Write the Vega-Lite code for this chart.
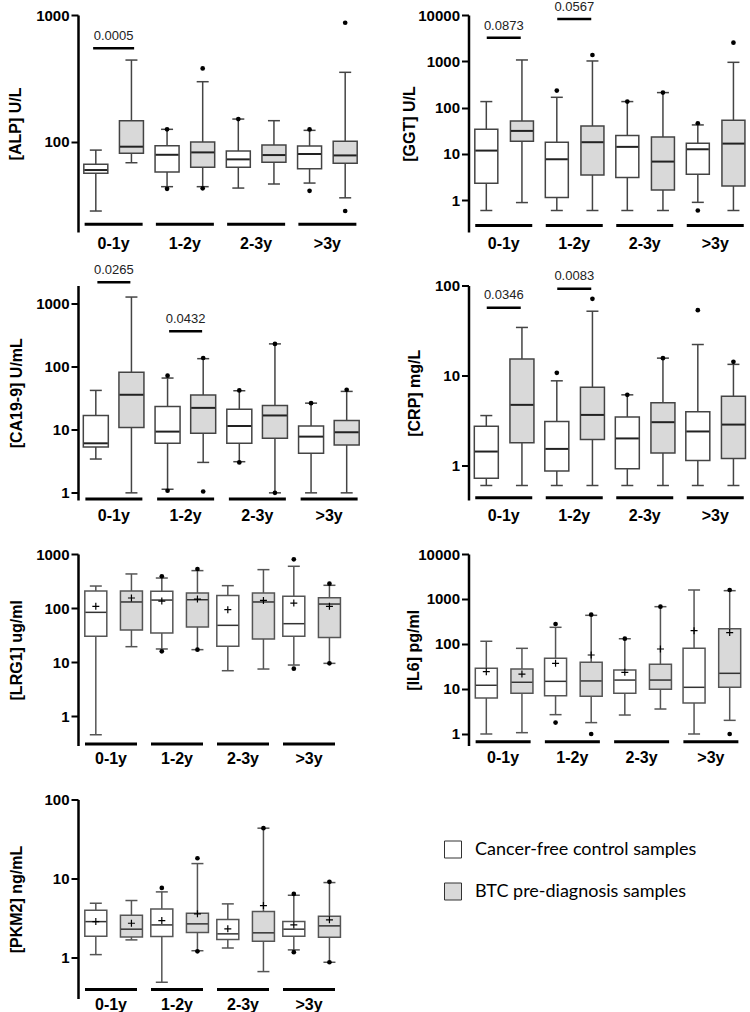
{
  "$schema": "https://vega.github.io/schema/vega-lite/v6.json",
  "padding": {"left": 7, "top": 1, "right": 0, "bottom": 4},
  "background": "white",
  "columns": 2,
  "bounds": "flush",
  "align": "each",
  "spacing": {"row": 53.5, "column": 103.5},
  "resolve": {"scale": {"fill": "independent"}, "legend": {"fill": "independent"}},
  "config": {
    "font": "Liberation Sans",
    "view": {"stroke": null},
    "text": {"font": "Liberation Sans"},
    "axisY": {"labelFont": "Liberation Sans", "titleFont": "Liberation Sans", "domainColor": "black", "domainWidth": 2.5, "tickColor": "black", "tickWidth": 2, "tickSize": 7, "labelFontSize": 15, "labelFontWeight": "bold", "labelColor": "black", "labelPadding": 2, "titleFontSize": 16, "titleFontWeight": "bold", "titleColor": "black", "titleAngle": 270, "titleBaseline": "middle", "titleAlign": "center", "grid": false},
    "axisX": {"labelFont": "Liberation Sans", "domain": false, "ticks": false, "tickSize": 0, "labelFontSize": 16, "labelFontWeight": "bold", "labelColor": "black", "labelAngle": 0, "grid": false}
  },
  "datasets": {
    "groups": [{"group": "0-1y"}, {"group": "1-2y"}, {"group": "2-3y"}, {"group": ">3y"}],
    "alp_box": [
      {"group": "0-1y", "series": "Control", "lo": 28.4, "q1": 56.3, "med": 59.8, "q3": 66.3, "hi": 85.9},
      {"group": "0-1y", "series": "BTC", "lo": 68.3, "q1": 81, "med": 91.4, "q3": 146.6, "hi": 441},
      {"group": "1-2y", "series": "Control", "lo": 44.2, "q1": 57.7, "med": 78.9, "q3": 93, "hi": 125.3},
      {"group": "1-2y", "series": "BTC", "lo": 44.2, "q1": 62.8, "med": 82.4, "q3": 99.5, "hi": 297.6},
      {"group": "2-3y", "series": "Control", "lo": 43.1, "q1": 62.8, "med": 72.6, "q3": 84.5, "hi": 151},
      {"group": "2-3y", "series": "BTC", "lo": 46.4, "q1": 68.8, "med": 78.5, "q3": 94.2, "hi": 146.6},
      {"group": ">3y", "series": "Control", "lo": 47.2, "q1": 61.2, "med": 80, "q3": 92.5, "hi": 123},
      {"group": ">3y", "series": "BTC", "lo": 36.1, "q1": 67.5, "med": 78, "q3": 100.7, "hi": 353}
    ],
    "alp_out": [
      {"group": "1-2y", "series": "Control", "value": 125.3}, {"group": "1-2y", "series": "Control", "value": 42.5},
      {"group": "1-2y", "series": "BTC", "value": 379}, {"group": "1-2y", "series": "BTC", "value": 42.9},
      {"group": "2-3y", "series": "Control", "value": 151},
      {"group": ">3y", "series": "Control", "value": 125}, {"group": ">3y", "series": "Control", "value": 41},
      {"group": ">3y", "series": "BTC", "value": 869}, {"group": ">3y", "series": "BTC", "value": 28.4}
    ],
    "alp_sig": [{"group": "0-1y", "label": "0.0005", "at": 546}],
    "ggt_box": [
      {"group": "0-1y", "series": "Control", "lo": 0.6, "q1": 2.33, "med": 11.8, "q3": 34, "hi": 135},
      {"group": "0-1y", "series": "BTC", "lo": 0.89, "q1": 18.8, "med": 31.4, "q3": 51.5, "hi": 1069},
      {"group": "1-2y", "series": "Control", "lo": 0.6, "q1": 1.14, "med": 7.67, "q3": 17.9, "hi": 167},
      {"group": "1-2y", "series": "BTC", "lo": 0.6, "q1": 3.52, "med": 17.9, "q3": 40.2, "hi": 1017},
      {"group": "2-3y", "series": "Control", "lo": 0.6, "q1": 3.08, "med": 14.2, "q3": 24.9, "hi": 135},
      {"group": "2-3y", "series": "BTC", "lo": 0.6, "q1": 1.67, "med": 6.83, "q3": 23.3, "hi": 211},
      {"group": ">3y", "series": "Control", "lo": 0.9, "q1": 3.64, "med": 12.6, "q3": 17, "hi": 42.3},
      {"group": ">3y", "series": "BTC", "lo": 0.6, "q1": 2.04, "med": 16.7, "q3": 53.3, "hi": 951}
    ],
    "ggt_out": [
      {"group": "1-2y", "series": "Control", "value": 233},
      {"group": "1-2y", "series": "BTC", "value": 1370},
      {"group": "2-3y", "series": "Control", "value": 135},
      {"group": "2-3y", "series": "BTC", "value": 211},
      {"group": ">3y", "series": "Control", "value": 45.9}, {"group": ">3y", "series": "Control", "value": 0.6},
      {"group": ">3y", "series": "BTC", "value": 2530}
    ],
    "ggt_sig": [{"group": "0-1y", "label": "0.0873", "at": 3236}, {"group": "1-2y", "label": "0.0567", "at": 8200}],
    "ca_box": [
      {"group": "0-1y", "series": "Control", "lo": 3.44, "q1": 5.34, "med": 6.11, "q3": 16.9, "hi": 42.2},
      {"group": "0-1y", "series": "BTC", "lo": 1.0, "q1": 10.9, "med": 36, "q3": 81.6, "hi": 1279},
      {"group": "1-2y", "series": "Control", "lo": 1.14, "q1": 6.11, "med": 9.37, "q3": 23.5, "hi": 66.3},
      {"group": "1-2y", "series": "BTC", "lo": 3.04, "q1": 8.82, "med": 22.3, "q3": 35.6, "hi": 134.6},
      {"group": "2-3y", "series": "Control", "lo": 3.12, "q1": 6.11, "med": 11.5, "q3": 21.3, "hi": 41.7},
      {"group": "2-3y", "series": "BTC", "lo": 1.0, "q1": 7.34, "med": 16.9, "q3": 24.3, "hi": 231},
      {"group": ">3y", "series": "Control", "lo": 1.0, "q1": 4.24, "med": 7.8, "q3": 11.5, "hi": 26.5},
      {"group": ">3y", "series": "BTC", "lo": 1.0, "q1": 5.75, "med": 9.15, "q3": 14, "hi": 40.7}
    ],
    "ca_out": [
      {"group": "1-2y", "series": "Control", "value": 72.2}, {"group": "1-2y", "series": "Control", "value": 1.08},
      {"group": "1-2y", "series": "BTC", "value": 138}, {"group": "1-2y", "series": "BTC", "value": 1.05},
      {"group": "2-3y", "series": "Control", "value": 42.2}, {"group": "2-3y", "series": "Control", "value": 3.04},
      {"group": "2-3y", "series": "BTC", "value": 231}, {"group": "2-3y", "series": "BTC", "value": 1.0},
      {"group": ">3y", "series": "Control", "value": 26.5},
      {"group": ">3y", "series": "BTC", "value": 43.2}
    ],
    "ca_sig": [{"group": "0-1y", "label": "0.0265", "at": 2203}, {"group": "1-2y", "label": "0.0432", "at": 367}],
    "crp_box": [
      {"group": "0-1y", "series": "Control", "lo": 0.6, "q1": 0.72, "med": 1.43, "q3": 2.73, "hi": 3.59},
      {"group": "0-1y", "series": "BTC", "lo": 0.6, "q1": 1.79, "med": 4.72, "q3": 15.3, "hi": 34.2},
      {"group": "1-2y", "series": "Control", "lo": 0.6, "q1": 0.87, "med": 1.53, "q3": 3.08, "hi": 8.73},
      {"group": "1-2y", "series": "BTC", "lo": 0.6, "q1": 1.94, "med": 3.65, "q3": 7.42, "hi": 51.8},
      {"group": "2-3y", "series": "Control", "lo": 0.6, "q1": 0.92, "med": 2.0, "q3": 3.47, "hi": 6.1},
      {"group": "2-3y", "series": "BTC", "lo": 0.6, "q1": 1.38, "med": 3.03, "q3": 4.97, "hi": 15.6},
      {"group": ">3y", "series": "Control", "lo": 0.6, "q1": 1.14, "med": 2.39, "q3": 3.95, "hi": 22.1},
      {"group": ">3y", "series": "BTC", "lo": 0.6, "q1": 1.2, "med": 2.85, "q3": 5.89, "hi": 13.3}
    ],
    "crp_out": [
      {"group": "1-2y", "series": "Control", "value": 10.7},
      {"group": "1-2y", "series": "BTC", "value": 71.1},
      {"group": "2-3y", "series": "Control", "value": 6.1},
      {"group": "2-3y", "series": "BTC", "value": 15.6},
      {"group": ">3y", "series": "Control", "value": 53.2},
      {"group": ">3y", "series": "BTC", "value": 14.2}
    ],
    "crp_sig": [{"group": "0-1y", "label": "0.0346", "at": 56.5}, {"group": "1-2y", "label": "0.0083", "at": 91.9}],
    "lrg_box": [
      {"group": "0-1y", "series": "Control", "lo": 0.458, "q1": 30.1, "med": 83.6, "q3": 207, "hi": 256, "mean": 108},
      {"group": "0-1y", "series": "BTC", "lo": 19.4, "q1": 39.4, "med": 130, "q3": 207, "hi": 428, "mean": 154},
      {"group": "1-2y", "series": "Control", "lo": 17.6, "q1": 34.7, "med": 141, "q3": 204, "hi": 360, "mean": 135},
      {"group": "1-2y", "series": "BTC", "lo": 17.1, "q1": 44.8, "med": 143, "q3": 190, "hi": 493, "mean": 147},
      {"group": "2-3y", "series": "Control", "lo": 6.98, "q1": 19.7, "med": 48.1, "q3": 172, "hi": 260, "mean": 93.7},
      {"group": "2-3y", "series": "BTC", "lo": 7.5, "q1": 26.9, "med": 130, "q3": 190, "hi": 514, "mean": 139},
      {"group": ">3y", "series": "Control", "lo": 8.89, "q1": 30.1, "med": 51.6, "q3": 165, "hi": 593, "mean": 124},
      {"group": ">3y", "series": "BTC", "lo": 9.55, "q1": 28.8, "med": 119, "q3": 156, "hi": 264, "mean": 108}
    ],
    "lrg_out": [
      {"group": "1-2y", "series": "Control", "value": 387}, {"group": "1-2y", "series": "Control", "value": 15.9},
      {"group": "1-2y", "series": "BTC", "value": 529}, {"group": "1-2y", "series": "BTC", "value": 17.1},
      {"group": ">3y", "series": "Control", "value": 798}, {"group": ">3y", "series": "Control", "value": 7.6},
      {"group": ">3y", "series": "BTC", "value": 283}, {"group": ">3y", "series": "BTC", "value": 9.55}
    ],
    "il6_box": [
      {"group": "0-1y", "series": "Control", "lo": 1.0, "q1": 6.31, "med": 12.1, "q3": 28.8, "hi": 115, "mean": 24.3},
      {"group": "0-1y", "series": "BTC", "lo": 1.07, "q1": 8.01, "med": 14.1, "q3": 27.8, "hi": 80.1, "mean": 21.5},
      {"group": "1-2y", "series": "Control", "lo": 2.69, "q1": 7.11, "med": 14.8, "q3": 48, "hi": 235, "mean": 37.2},
      {"group": "1-2y", "series": "BTC", "lo": 1.79, "q1": 6.87, "med": 15.1, "q3": 39.1, "hi": 434, "mean": 57},
      {"group": "2-3y", "series": "Control", "lo": 2.64, "q1": 8.01, "med": 15.8, "q3": 26.5, "hi": 131, "mean": 23.5},
      {"group": "2-3y", "series": "BTC", "lo": 3.59, "q1": 9.84, "med": 15.8, "q3": 35.3, "hi": 675, "mean": 77.4},
      {"group": ">3y", "series": "Control", "lo": 1.0, "q1": 4.88, "med": 10.9, "q3": 80.1, "hi": 1585, "mean": 198},
      {"group": ">3y", "series": "BTC", "lo": 2.01, "q1": 10.9, "med": 22.3, "q3": 219, "hi": 1531, "mean": 179}
    ],
    "il6_out": [
      {"group": "1-2y", "series": "Control", "value": 278}, {"group": "1-2y", "series": "Control", "value": 1.79},
      {"group": "1-2y", "series": "BTC", "value": 449}, {"group": "1-2y", "series": "BTC", "value": 1.0},
      {"group": "2-3y", "series": "Control", "value": 131},
      {"group": "2-3y", "series": "BTC", "value": 675},
      {"group": ">3y", "series": "BTC", "value": 1585}, {"group": ">3y", "series": "BTC", "value": 1.0}
    ],
    "pk_box": [
      {"group": "0-1y", "series": "Control", "lo": 1.08, "q1": 1.85, "med": 2.83, "q3": 3.95, "hi": 4.84, "mean": 2.83},
      {"group": "0-1y", "series": "BTC", "lo": 1.66, "q1": 1.81, "med": 2.27, "q3": 3.41, "hi": 5.24, "mean": 2.7},
      {"group": "1-2y", "series": "Control", "lo": 0.482, "q1": 1.83, "med": 2.57, "q3": 4.1, "hi": 6.74, "mean": 2.92},
      {"group": "1-2y", "series": "BTC", "lo": 1.21, "q1": 2.06, "med": 2.65, "q3": 3.61, "hi": 15.4, "mean": 3.55},
      {"group": "2-3y", "series": "Control", "lo": 1.31, "q1": 1.68, "med": 1.98, "q3": 3.0, "hi": 4.75, "mean": 2.29},
      {"group": "2-3y", "series": "BTC", "lo": 0.658, "q1": 1.6, "med": 2.04, "q3": 3.8, "hi": 43.3, "mean": 4.52},
      {"group": ">3y", "series": "Control", "lo": 1.24, "q1": 1.85, "med": 2.27, "q3": 2.83, "hi": 6.11, "mean": 2.57},
      {"group": ">3y", "series": "BTC", "lo": 0.864, "q1": 1.79, "med": 2.5, "q3": 3.31, "hi": 8.85, "mean": 2.98}
    ],
    "pk_out": [
      {"group": "1-2y", "series": "Control", "value": 7.57},
      {"group": "1-2y", "series": "BTC", "value": 18.0}, {"group": "1-2y", "series": "BTC", "value": 1.19},
      {"group": "2-3y", "series": "BTC", "value": 43.3},
      {"group": ">3y", "series": "Control", "value": 6.36}, {"group": ">3y", "series": "Control", "value": 1.16},
      {"group": ">3y", "series": "BTC", "value": 9.03}, {"group": ">3y", "series": "BTC", "value": 0.864}
    ]
  },
  "concat": [
    {
      "width": 285, "height": 217,
      "encoding": {"x": {"field": "group", "type": "nominal", "sort": ["0-1y", "1-2y", "2-3y", ">3y"], "scale": {"paddingInner": 0, "paddingOuter": 0}, "axis": {"title": null, "labelPadding": 3}}},
      "layer": [
        {"data": {"name": "alp_box"}, "mark": {"type": "rule", "color": "#444", "strokeWidth": 1.5},
         "encoding": {"xOffset": {"field": "series", "type": "nominal", "sort": ["Control", "BTC"], "scale": {"paddingInner": 0, "paddingOuter": 0}},
           "y": {"field": "lo", "type": "quantitative", "scale": {"type": "log", "domain": [19.4, 1000], "nice": false}, "axis": {"title": "[ALP] U/L", "values": [100, 1000], "format": "d", "titleX": -63}},
           "y2": {"field": "hi"}}},
        {"data": {"name": "alp_box"}, "mark": {"type": "bar", "stroke": "#444", "strokeWidth": 1.5, "width": 24, "opacity": 1},
         "encoding": {"xOffset": {"field": "series", "type": "nominal", "sort": ["Control", "BTC"]},
           "y": {"field": "q1", "type": "quantitative", "scale": {"type": "log", "domain": [19.4, 1000], "nice": false}}, "y2": {"field": "q3"},
           "fill": {"condition": {"test": "datum.series === 'BTC'", "value": "#d9d9d9"}, "value": "white"}}},
        {"data": {"name": "alp_box"}, "mark": {"type": "tick", "color": "#222", "size": 23, "thickness": 2, "opacity": 1},
         "encoding": {"xOffset": {"field": "series", "type": "nominal", "sort": ["Control", "BTC"]}, "y": {"field": "med", "type": "quantitative", "scale": {"type": "log", "domain": [19.4, 1000], "nice": false}}}},
        {"data": {"name": "alp_box"}, "mark": {"type": "tick", "color": "#444", "size": 12, "thickness": 1.5, "opacity": 1},
         "encoding": {"xOffset": {"field": "series", "type": "nominal", "sort": ["Control", "BTC"]}, "y": {"field": "lo", "type": "quantitative", "scale": {"type": "log", "domain": [19.4, 1000], "nice": false}}}},
        {"data": {"name": "alp_box"}, "mark": {"type": "tick", "color": "#444", "size": 12, "thickness": 1.5, "opacity": 1},
         "encoding": {"xOffset": {"field": "series", "type": "nominal", "sort": ["Control", "BTC"]}, "y": {"field": "hi", "type": "quantitative", "scale": {"type": "log", "domain": [19.4, 1000], "nice": false}}}},
        {"data": {"name": "alp_out"}, "mark": {"type": "point", "filled": true, "color": "black", "size": 22, "opacity": 1},
         "encoding": {"xOffset": {"field": "series", "type": "nominal", "sort": ["Control", "BTC"]}, "y": {"field": "value", "type": "quantitative", "scale": {"type": "log", "domain": [19.4, 1000], "nice": false}}}},
        {"data": {"name": "groups"}, "mark": {"type": "tick", "color": "black", "size": 58, "thickness": 3, "opacity": 1},
         "encoding": {"y": {"datum": 22.3, "type": "quantitative", "scale": {"type": "log", "domain": [19.4, 1000], "nice": false}}}},
        {"data": {"name": "alp_sig"}, "mark": {"type": "tick", "color": "black", "size": 41, "thickness": 2.5, "opacity": 1},
         "encoding": {"y": {"field": "at", "type": "quantitative", "scale": {"type": "log", "domain": [19.4, 1000], "nice": false}}}},
        {"data": {"name": "alp_sig"}, "mark": {"type": "text", "dy": -12.5, "fontSize": 13, "color": "#222"},
         "encoding": {"y": {"field": "at", "type": "quantitative", "scale": {"type": "log", "domain": [19.4, 1000], "nice": false}}, "text": {"field": "label"}}}
      ]
    },
    {
      "width": 282, "height": 217,
      "encoding": {"x": {"field": "group", "type": "nominal", "sort": ["0-1y", "1-2y", "2-3y", ">3y"], "scale": {"paddingInner": 0, "paddingOuter": 0}, "axis": {"title": null, "labelPadding": 3}}},
      "layer": [
        {"data": {"name": "ggt_box"}, "mark": {"type": "rule", "color": "#444", "strokeWidth": 1.5},
         "encoding": {"xOffset": {"field": "series", "type": "nominal", "sort": ["Control", "BTC"], "scale": {"paddingInner": 0, "paddingOuter": 0}},
           "y": {"field": "lo", "type": "quantitative", "scale": {"type": "log", "domain": [0.206, 10000], "nice": false}, "axis": {"title": "[GGT] U/L", "values": [1, 10, 100, 1000, 10000], "format": "d", "titleX": -59.5}},
           "y2": {"field": "hi"}}},
        {"data": {"name": "ggt_box"}, "mark": {"type": "bar", "stroke": "#444", "strokeWidth": 1.5, "width": 23, "opacity": 1},
         "encoding": {"xOffset": {"field": "series", "type": "nominal", "sort": ["Control", "BTC"]},
           "y": {"field": "q1", "type": "quantitative", "scale": {"type": "log", "domain": [0.206, 10000], "nice": false}}, "y2": {"field": "q3"},
           "fill": {"condition": {"test": "datum.series === 'BTC'", "value": "#d9d9d9"}, "value": "white"}}},
        {"data": {"name": "ggt_box"}, "mark": {"type": "tick", "color": "#222", "size": 22, "thickness": 2, "opacity": 1},
         "encoding": {"xOffset": {"field": "series", "type": "nominal", "sort": ["Control", "BTC"]}, "y": {"field": "med", "type": "quantitative", "scale": {"type": "log", "domain": [0.206, 10000], "nice": false}}}},
        {"data": {"name": "ggt_box"}, "mark": {"type": "tick", "color": "#444", "size": 12, "thickness": 1.5, "opacity": 1},
         "encoding": {"xOffset": {"field": "series", "type": "nominal", "sort": ["Control", "BTC"]}, "y": {"field": "lo", "type": "quantitative", "scale": {"type": "log", "domain": [0.206, 10000], "nice": false}}}},
        {"data": {"name": "ggt_box"}, "mark": {"type": "tick", "color": "#444", "size": 12, "thickness": 1.5, "opacity": 1},
         "encoding": {"xOffset": {"field": "series", "type": "nominal", "sort": ["Control", "BTC"]}, "y": {"field": "hi", "type": "quantitative", "scale": {"type": "log", "domain": [0.206, 10000], "nice": false}}}},
        {"data": {"name": "ggt_out"}, "mark": {"type": "point", "filled": true, "color": "black", "size": 22, "opacity": 1},
         "encoding": {"xOffset": {"field": "series", "type": "nominal", "sort": ["Control", "BTC"]}, "y": {"field": "value", "type": "quantitative", "scale": {"type": "log", "domain": [0.206, 10000], "nice": false}}}},
        {"data": {"name": "groups"}, "mark": {"type": "tick", "color": "black", "size": 57, "thickness": 3, "opacity": 1},
         "encoding": {"y": {"datum": 0.283, "type": "quantitative", "scale": {"type": "log", "domain": [0.206, 10000], "nice": false}}}},
        {"data": {"name": "ggt_sig"}, "mark": {"type": "tick", "color": "black", "size": 34, "thickness": 2.5, "opacity": 1},
         "encoding": {"y": {"field": "at", "type": "quantitative", "scale": {"type": "log", "domain": [0.206, 10000], "nice": false}}}},
        {"data": {"name": "ggt_sig"}, "mark": {"type": "text", "dy": -11.5, "fontSize": 13, "color": "#222"},
         "encoding": {"y": {"field": "at", "type": "quantitative", "scale": {"type": "log", "domain": [0.206, 10000], "nice": false}}, "text": {"field": "label"}}}
      ]
    },
    {
      "width": 287, "height": 214.5,
      "encoding": {"x": {"field": "group", "type": "nominal", "sort": ["0-1y", "1-2y", "2-3y", ">3y"], "scale": {"paddingInner": 0, "paddingOuter": 0}, "axis": {"title": null, "labelPadding": 7}}},
      "layer": [
        {"data": {"name": "ca_box"}, "mark": {"type": "rule", "color": "#444", "strokeWidth": 1.5},
         "encoding": {"xOffset": {"field": "series", "type": "nominal", "sort": ["Control", "BTC"], "scale": {"paddingInner": 0, "paddingOuter": 0}},
           "y": {"field": "lo", "type": "quantitative", "scale": {"type": "log", "domain": [0.77, 1950], "nice": false}, "axis": {"title": "[CA19-9] U/mL", "values": [1, 10, 100, 1000], "format": "d", "titleX": -62}},
           "y2": {"field": "hi"}}},
        {"data": {"name": "ca_box"}, "mark": {"type": "bar", "stroke": "#444", "strokeWidth": 1.5, "width": 25, "opacity": 1},
         "encoding": {"xOffset": {"field": "series", "type": "nominal", "sort": ["Control", "BTC"]},
           "y": {"field": "q1", "type": "quantitative", "scale": {"type": "log", "domain": [0.77, 1950], "nice": false}}, "y2": {"field": "q3"},
           "fill": {"condition": {"test": "datum.series === 'BTC'", "value": "#d9d9d9"}, "value": "white"}}},
        {"data": {"name": "ca_box"}, "mark": {"type": "tick", "color": "#222", "size": 24, "thickness": 2, "opacity": 1},
         "encoding": {"xOffset": {"field": "series", "type": "nominal", "sort": ["Control", "BTC"]}, "y": {"field": "med", "type": "quantitative", "scale": {"type": "log", "domain": [0.77, 1950], "nice": false}}}},
        {"data": {"name": "ca_box"}, "mark": {"type": "tick", "color": "#444", "size": 12, "thickness": 1.5, "opacity": 1},
         "encoding": {"xOffset": {"field": "series", "type": "nominal", "sort": ["Control", "BTC"]}, "y": {"field": "lo", "type": "quantitative", "scale": {"type": "log", "domain": [0.77, 1950], "nice": false}}}},
        {"data": {"name": "ca_box"}, "mark": {"type": "tick", "color": "#444", "size": 12, "thickness": 1.5, "opacity": 1},
         "encoding": {"xOffset": {"field": "series", "type": "nominal", "sort": ["Control", "BTC"]}, "y": {"field": "hi", "type": "quantitative", "scale": {"type": "log", "domain": [0.77, 1950], "nice": false}}}},
        {"data": {"name": "ca_out"}, "mark": {"type": "point", "filled": true, "color": "black", "size": 22, "opacity": 1},
         "encoding": {"xOffset": {"field": "series", "type": "nominal", "sort": ["Control", "BTC"]}, "y": {"field": "value", "type": "quantitative", "scale": {"type": "log", "domain": [0.77, 1950], "nice": false}}}},
        {"data": {"name": "groups"}, "mark": {"type": "tick", "color": "black", "size": 57, "thickness": 3, "opacity": 1},
         "encoding": {"y": {"datum": 0.8, "type": "quantitative", "scale": {"type": "log", "domain": [0.77, 1950], "nice": false}}}},
        {"data": {"name": "ca_sig"}, "mark": {"type": "tick", "color": "black", "size": 33, "thickness": 2.5, "opacity": 1},
         "encoding": {"y": {"field": "at", "type": "quantitative", "scale": {"type": "log", "domain": [0.77, 1950], "nice": false}}}},
        {"data": {"name": "ca_sig"}, "mark": {"type": "text", "dy": -12, "fontSize": 13, "color": "#222"},
         "encoding": {"y": {"field": "at", "type": "quantitative", "scale": {"type": "log", "domain": [0.77, 1950], "nice": false}}, "text": {"field": "label"}}}
      ]
    },
    {
      "width": 282, "height": 214.5,
      "encoding": {"x": {"field": "group", "type": "nominal", "sort": ["0-1y", "1-2y", "2-3y", ">3y"], "scale": {"paddingInner": 0, "paddingOuter": 0}, "axis": {"title": null, "labelPadding": 7}}},
      "layer": [
        {"data": {"name": "crp_box"}, "mark": {"type": "rule", "color": "#444", "strokeWidth": 1.5},
         "encoding": {"xOffset": {"field": "series", "type": "nominal", "sort": ["Control", "BTC"], "scale": {"paddingInner": 0, "paddingOuter": 0}},
           "y": {"field": "lo", "type": "quantitative", "scale": {"type": "log", "domain": [0.414, 100], "nice": false}, "axis": {"title": "[CRP] mg/L", "values": [1, 10, 100], "format": "d", "titleX": -54}},
           "y2": {"field": "hi"}}},
        {"data": {"name": "crp_box"}, "mark": {"type": "bar", "stroke": "#444", "strokeWidth": 1.5, "width": 24, "opacity": 1},
         "encoding": {"xOffset": {"field": "series", "type": "nominal", "sort": ["Control", "BTC"]},
           "y": {"field": "q1", "type": "quantitative", "scale": {"type": "log", "domain": [0.414, 100], "nice": false}}, "y2": {"field": "q3"},
           "fill": {"condition": {"test": "datum.series === 'BTC'", "value": "#d9d9d9"}, "value": "white"}}},
        {"data": {"name": "crp_box"}, "mark": {"type": "tick", "color": "#222", "size": 23, "thickness": 2, "opacity": 1},
         "encoding": {"xOffset": {"field": "series", "type": "nominal", "sort": ["Control", "BTC"]}, "y": {"field": "med", "type": "quantitative", "scale": {"type": "log", "domain": [0.414, 100], "nice": false}}}},
        {"data": {"name": "crp_box"}, "mark": {"type": "tick", "color": "#444", "size": 12, "thickness": 1.5, "opacity": 1},
         "encoding": {"xOffset": {"field": "series", "type": "nominal", "sort": ["Control", "BTC"]}, "y": {"field": "lo", "type": "quantitative", "scale": {"type": "log", "domain": [0.414, 100], "nice": false}}}},
        {"data": {"name": "crp_box"}, "mark": {"type": "tick", "color": "#444", "size": 12, "thickness": 1.5, "opacity": 1},
         "encoding": {"xOffset": {"field": "series", "type": "nominal", "sort": ["Control", "BTC"]}, "y": {"field": "hi", "type": "quantitative", "scale": {"type": "log", "domain": [0.414, 100], "nice": false}}}},
        {"data": {"name": "crp_out"}, "mark": {"type": "point", "filled": true, "color": "black", "size": 22, "opacity": 1},
         "encoding": {"xOffset": {"field": "series", "type": "nominal", "sort": ["Control", "BTC"]}, "y": {"field": "value", "type": "quantitative", "scale": {"type": "log", "domain": [0.414, 100], "nice": false}}}},
        {"data": {"name": "groups"}, "mark": {"type": "tick", "color": "black", "size": 57, "thickness": 3, "opacity": 1},
         "encoding": {"y": {"datum": 0.438, "type": "quantitative", "scale": {"type": "log", "domain": [0.414, 100], "nice": false}}}},
        {"data": {"name": "crp_sig"}, "mark": {"type": "tick", "color": "black", "size": 34, "thickness": 2.5, "opacity": 1},
         "encoding": {"y": {"field": "at", "type": "quantitative", "scale": {"type": "log", "domain": [0.414, 100], "nice": false}}}},
        {"data": {"name": "crp_sig"}, "mark": {"type": "text", "dy": -13, "fontSize": 13, "color": "#222"},
         "encoding": {"y": {"field": "at", "type": "quantitative", "scale": {"type": "log", "domain": [0.414, 100], "nice": false}}, "text": {"field": "label"}}}
      ]
    },
    {
      "width": 264, "height": 191.5,
      "encoding": {"x": {"field": "group", "type": "nominal", "sort": ["0-1y", "1-2y", "2-3y", ">3y"], "scale": {"paddingInner": 0, "paddingOuter": 0}, "axis": {"title": null, "labelPadding": 5}}},
      "layer": [
        {"data": {"name": "lrg_box"}, "mark": {"type": "rule", "color": "#555", "strokeWidth": 1.5},
         "encoding": {"xOffset": {"field": "series", "type": "nominal", "sort": ["Control", "BTC"], "scale": {"paddingInner": 0, "paddingOuter": 0}},
           "y": {"field": "lo", "type": "quantitative", "scale": {"type": "log", "domain": [0.29, 1000], "nice": false}, "axis": {"title": "[LRG1] ug/ml", "values": [1, 10, 100, 1000], "format": "d", "titleX": -62}},
           "y2": {"field": "hi"}}},
        {"data": {"name": "lrg_box"}, "mark": {"type": "bar", "stroke": "#555", "strokeWidth": 1.5, "width": 22, "opacity": 1},
         "encoding": {"xOffset": {"field": "series", "type": "nominal", "sort": ["Control", "BTC"]},
           "y": {"field": "q1", "type": "quantitative", "scale": {"type": "log", "domain": [0.29, 1000], "nice": false}}, "y2": {"field": "q3"},
           "fill": {"condition": {"test": "datum.series === 'BTC'", "value": "#d9d9d9"}, "value": "white"}}},
        {"data": {"name": "lrg_box"}, "mark": {"type": "tick", "color": "#333", "size": 21, "thickness": 1.5, "opacity": 1},
         "encoding": {"xOffset": {"field": "series", "type": "nominal", "sort": ["Control", "BTC"]}, "y": {"field": "med", "type": "quantitative", "scale": {"type": "log", "domain": [0.29, 1000], "nice": false}}}},
        {"data": {"name": "lrg_box"}, "mark": {"type": "tick", "color": "#555", "size": 12, "thickness": 1.5, "opacity": 1},
         "encoding": {"xOffset": {"field": "series", "type": "nominal", "sort": ["Control", "BTC"]}, "y": {"field": "lo", "type": "quantitative", "scale": {"type": "log", "domain": [0.29, 1000], "nice": false}}}},
        {"data": {"name": "lrg_box"}, "mark": {"type": "tick", "color": "#555", "size": 12, "thickness": 1.5, "opacity": 1},
         "encoding": {"xOffset": {"field": "series", "type": "nominal", "sort": ["Control", "BTC"]}, "y": {"field": "hi", "type": "quantitative", "scale": {"type": "log", "domain": [0.29, 1000], "nice": false}}}},
        {"data": {"name": "lrg_out"}, "mark": {"type": "point", "filled": true, "color": "black", "size": 22, "opacity": 1},
         "encoding": {"xOffset": {"field": "series", "type": "nominal", "sort": ["Control", "BTC"]}, "y": {"field": "value", "type": "quantitative", "scale": {"type": "log", "domain": [0.29, 1000], "nice": false}}}},
        {"data": {"name": "lrg_box"}, "mark": {"type": "point", "shape": "M-1,0L1,0M0,-1L0,1", "filled": false, "stroke": "black", "strokeWidth": 1.2, "size": 49, "opacity": 1},
         "encoding": {"xOffset": {"field": "series", "type": "nominal", "sort": ["Control", "BTC"]}, "y": {"field": "mean", "type": "quantitative", "scale": {"type": "log", "domain": [0.29, 1000], "nice": false}}}},
        {"data": {"name": "groups"}, "mark": {"type": "tick", "color": "black", "size": 52, "thickness": 3, "opacity": 1},
         "encoding": {"y": {"datum": 0.31, "type": "quantitative", "scale": {"type": "log", "domain": [0.29, 1000], "nice": false}}}}
      ]
    },
    {
      "width": 277, "height": 191.5,
      "encoding": {"x": {"field": "group", "type": "nominal", "sort": ["0-1y", "1-2y", "2-3y", ">3y"], "scale": {"paddingInner": 0, "paddingOuter": 0}, "axis": {"title": null, "labelPadding": 4}}},
      "layer": [
        {"data": {"name": "il6_box"}, "mark": {"type": "rule", "color": "#555", "strokeWidth": 1.5},
         "encoding": {"xOffset": {"field": "series", "type": "nominal", "sort": ["Control", "BTC"], "scale": {"paddingInner": 0, "paddingOuter": 0}},
           "y": {"field": "lo", "type": "quantitative", "scale": {"type": "log", "domain": [0.555, 10000], "nice": false}, "axis": {"title": "[IL6] pg/ml", "values": [1, 10, 100, 1000, 10000], "format": "d", "titleX": -55}},
           "y2": {"field": "hi"}}},
        {"data": {"name": "il6_box"}, "mark": {"type": "bar", "stroke": "#555", "strokeWidth": 1.5, "width": 22, "opacity": 1},
         "encoding": {"xOffset": {"field": "series", "type": "nominal", "sort": ["Control", "BTC"]},
           "y": {"field": "q1", "type": "quantitative", "scale": {"type": "log", "domain": [0.555, 10000], "nice": false}}, "y2": {"field": "q3"},
           "fill": {"condition": {"test": "datum.series === 'BTC'", "value": "#d9d9d9"}, "value": "white"}}},
        {"data": {"name": "il6_box"}, "mark": {"type": "tick", "color": "#333", "size": 21, "thickness": 1.5, "opacity": 1},
         "encoding": {"xOffset": {"field": "series", "type": "nominal", "sort": ["Control", "BTC"]}, "y": {"field": "med", "type": "quantitative", "scale": {"type": "log", "domain": [0.555, 10000], "nice": false}}}},
        {"data": {"name": "il6_box"}, "mark": {"type": "tick", "color": "#555", "size": 12, "thickness": 1.5, "opacity": 1},
         "encoding": {"xOffset": {"field": "series", "type": "nominal", "sort": ["Control", "BTC"]}, "y": {"field": "lo", "type": "quantitative", "scale": {"type": "log", "domain": [0.555, 10000], "nice": false}}}},
        {"data": {"name": "il6_box"}, "mark": {"type": "tick", "color": "#555", "size": 12, "thickness": 1.5, "opacity": 1},
         "encoding": {"xOffset": {"field": "series", "type": "nominal", "sort": ["Control", "BTC"]}, "y": {"field": "hi", "type": "quantitative", "scale": {"type": "log", "domain": [0.555, 10000], "nice": false}}}},
        {"data": {"name": "il6_out"}, "mark": {"type": "point", "filled": true, "color": "black", "size": 22, "opacity": 1},
         "encoding": {"xOffset": {"field": "series", "type": "nominal", "sort": ["Control", "BTC"]}, "y": {"field": "value", "type": "quantitative", "scale": {"type": "log", "domain": [0.555, 10000], "nice": false}}}},
        {"data": {"name": "il6_box"}, "mark": {"type": "point", "shape": "M-1,0L1,0M0,-1L0,1", "filled": false, "stroke": "black", "strokeWidth": 1.2, "size": 49, "opacity": 1},
         "encoding": {"xOffset": {"field": "series", "type": "nominal", "sort": ["Control", "BTC"]}, "y": {"field": "mean", "type": "quantitative", "scale": {"type": "log", "domain": [0.555, 10000], "nice": false}}}},
        {"data": {"name": "groups"}, "mark": {"type": "tick", "color": "black", "size": 55, "thickness": 3, "opacity": 1},
         "encoding": {"y": {"datum": 0.675, "type": "quantitative", "scale": {"type": "log", "domain": [0.555, 10000], "nice": false}}}}
      ]
    },
    {
      "width": 264, "height": 199,
      "encoding": {"x": {"field": "group", "type": "nominal", "sort": ["0-1y", "1-2y", "2-3y", ">3y"], "scale": {"paddingInner": 0, "paddingOuter": 0}, "axis": {"title": null, "labelPadding": -2}}},
      "layer": [
        {"data": {"name": "pk_box"}, "mark": {"type": "rule", "color": "#555", "strokeWidth": 1.5},
         "encoding": {"xOffset": {"field": "series", "type": "nominal", "sort": ["Control", "BTC"], "scale": {"paddingInner": 0, "paddingOuter": 0}},
           "y": {"field": "lo", "type": "quantitative", "scale": {"type": "log", "domain": [0.3, 100], "nice": false}, "axis": {"title": "[PKM2] ng/mL", "values": [1, 10, 100], "format": "d", "titleX": -62}},
           "y2": {"field": "hi"}}},
        {"data": {"name": "pk_box"}, "mark": {"type": "bar", "stroke": "#555", "strokeWidth": 1.5, "width": 22, "opacity": 1},
         "encoding": {"xOffset": {"field": "series", "type": "nominal", "sort": ["Control", "BTC"]},
           "y": {"field": "q1", "type": "quantitative", "scale": {"type": "log", "domain": [0.3, 100], "nice": false}}, "y2": {"field": "q3"},
           "fill": {"field": "series", "type": "nominal", "scale": {"domain": ["Control", "BTC"], "range": ["white", "#d9d9d9"]},
             "legend": {"orient": "none", "legendX": 366, "legendY": 41, "title": null, "symbolType": "square", "symbolSize": 289, "symbolStrokeColor": "#333", "symbolStrokeWidth": 1, "labelFont": "Lato", "labelFontSize": 18, "labelColor": "black", "labelOffset": 13, "labelLimit": 0, "rowPadding": 20,
               "labelExpr": "datum.value === 'Control' ? 'Cancer-free control samples' : 'BTC pre-diagnosis samples'"}}}},
        {"data": {"name": "pk_box"}, "mark": {"type": "tick", "color": "#333", "size": 21, "thickness": 1.5, "opacity": 1},
         "encoding": {"xOffset": {"field": "series", "type": "nominal", "sort": ["Control", "BTC"]}, "y": {"field": "med", "type": "quantitative", "scale": {"type": "log", "domain": [0.3, 100], "nice": false}}}},
        {"data": {"name": "pk_box"}, "mark": {"type": "tick", "color": "#555", "size": 12, "thickness": 1.5, "opacity": 1},
         "encoding": {"xOffset": {"field": "series", "type": "nominal", "sort": ["Control", "BTC"]}, "y": {"field": "lo", "type": "quantitative", "scale": {"type": "log", "domain": [0.3, 100], "nice": false}}}},
        {"data": {"name": "pk_box"}, "mark": {"type": "tick", "color": "#555", "size": 12, "thickness": 1.5, "opacity": 1},
         "encoding": {"xOffset": {"field": "series", "type": "nominal", "sort": ["Control", "BTC"]}, "y": {"field": "hi", "type": "quantitative", "scale": {"type": "log", "domain": [0.3, 100], "nice": false}}}},
        {"data": {"name": "pk_out"}, "mark": {"type": "point", "filled": true, "color": "black", "size": 22, "opacity": 1},
         "encoding": {"xOffset": {"field": "series", "type": "nominal", "sort": ["Control", "BTC"]}, "y": {"field": "value", "type": "quantitative", "scale": {"type": "log", "domain": [0.3, 100], "nice": false}}}},
        {"data": {"name": "pk_box"}, "mark": {"type": "point", "shape": "M-1,0L1,0M0,-1L0,1", "filled": false, "stroke": "black", "strokeWidth": 1.2, "size": 49, "opacity": 1},
         "encoding": {"xOffset": {"field": "series", "type": "nominal", "sort": ["Control", "BTC"]}, "y": {"field": "mean", "type": "quantitative", "scale": {"type": "log", "domain": [0.3, 100], "nice": false}}}},
        {"data": {"name": "groups"}, "mark": {"type": "tick", "color": "black", "size": 52, "thickness": 3, "opacity": 1},
         "encoding": {"y": {"datum": 0.389, "type": "quantitative", "scale": {"type": "log", "domain": [0.3, 100], "nice": false}}}}
      ]
    }
  ]
}
